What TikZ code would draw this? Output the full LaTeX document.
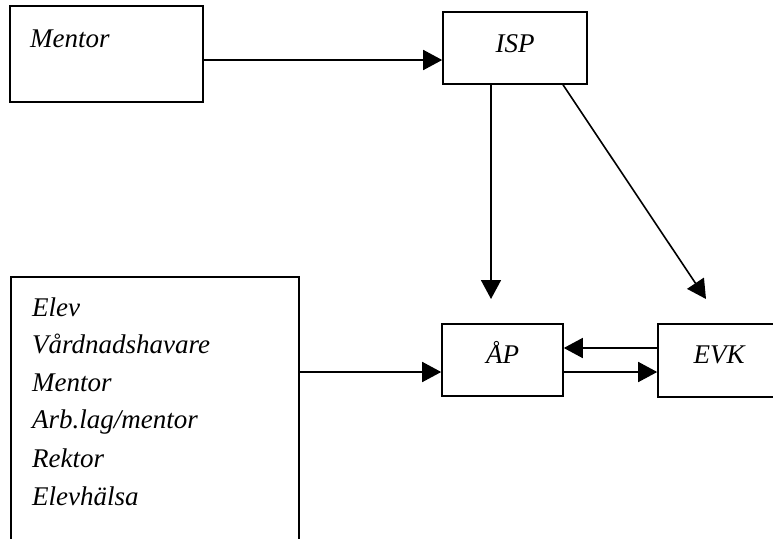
\documentclass[tikz,border=0pt]{standalone}
\usepackage{fontspec}
\setmainfont{Liberation Serif}
\usetikzlibrary{arrows.meta}
\begin{document}
\begin{tikzpicture}[x=1pt,y=-1pt,
  box/.style={draw,line width=1.6pt,inner sep=0pt},
  lbl/.style={inner sep=0pt,font=\fontsize{27}{32}\selectfont\itshape},
  arr/.style={line width=1.6pt,-{Triangle[length=19pt,width=20pt]}}]
\useasboundingbox (0,0) rectangle (773,538);
\clip (0,0) rectangle (773,538);
% boxes
\node[box,minimum width=193pt,minimum height=96pt] (mentor) at (106.5,54) {};
\node[box,minimum width=144pt,minimum height=72pt] (isp) at (515,48) {};
\node[box,minimum width=121pt,minimum height=72pt] (ap) at (502.5,360) {};
\node[box,minimum width=122pt,minimum height=73pt] (evk) at (719,360.5) {};
\node[box,minimum width=288pt,minimum height=300pt,anchor=north west] (big) at (10,276) {};
% texts
\node[lbl,anchor=base west] (tmentor) at (30,47) {Mentor};
\node[lbl,anchor=base] (tisp) at (515,52) {ISP};
\node[lbl,anchor=base] (tap) at (502.5,363) {ÅP};
\node[lbl,anchor=base] (tevk) at (719,363) {EVK};
\node[lbl,anchor=base west] (l1) at (32,316) {Elev};
\node[lbl,anchor=base west] (l2) at (32,353) {Vårdnadshavare};
\node[lbl,anchor=base west] (l3) at (32,391) {Mentor};
\node[lbl,anchor=base west] (l4) at (32,428) {Arb.lag/mentor};
\node[lbl,anchor=base west] (l5) at (32,467) {Rektor};
\node[lbl,anchor=base west] (l6) at (32,505) {Elevhälsa};
% free ends
\coordinate (t1) at (491,299);
\coordinate (t2) at (706,299);
% connectors
\draw[arr] (mentor.east |- 0,60) -- (isp.west |- 0,60);
\draw[arr] (isp.south -| t1) -- (t1);
\draw[arr] (isp.south -| 563,0) -- (t2);
\draw[arr] (evk.west |- 0,348) -- (ap.east |- 0,348);
\draw[arr] (ap.east |- 0,372) -- (evk.west |- 0,372);
\draw[arr] (big.east |- 0,372) -- (ap.west |- 0,372);
\end{tikzpicture}
\end{document}
